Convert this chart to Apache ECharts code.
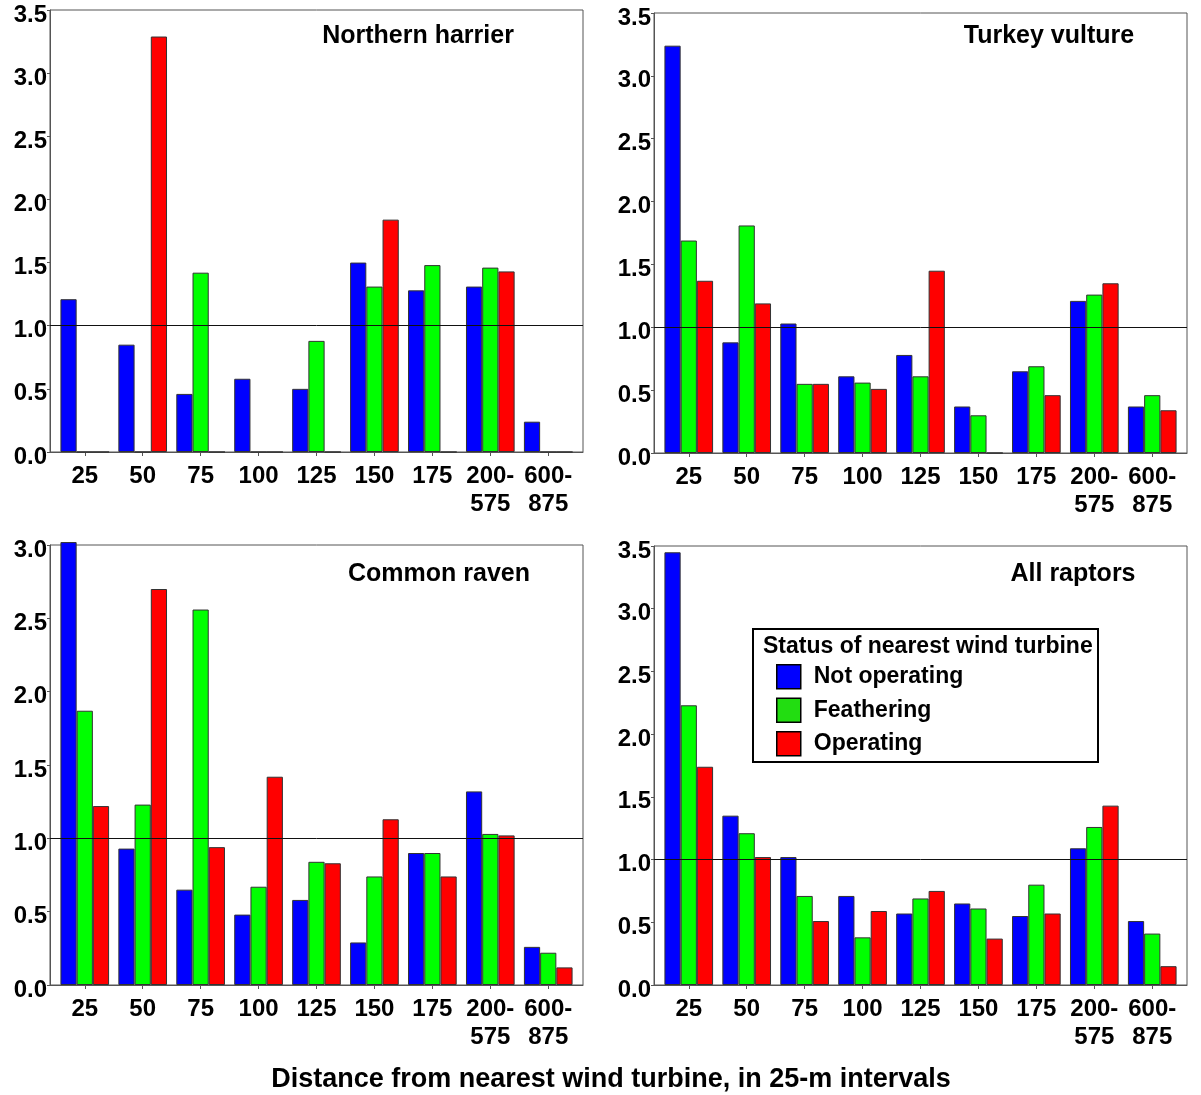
<!DOCTYPE html>
<html><head><meta charset="utf-8">
<script src="https://cdn.jsdelivr.net/npm/echarts@6/dist/echarts.min.js"></script>
<style>html,body{margin:0;padding:0;background:#fff}#c{width:1201px;height:1095px}</style>
</head><body><div id="c"></div>
<script>
// ---- data ----
const categories = ['25', '50', '75', '100', '125', '150', '175', '200-\n575', '600-\n875'];
const seriesNames = ['Not operating', 'Feathering', 'Operating'];
const panelTitles = ['Northern harrier', 'Turkey vulture', 'Common raven', 'All raptors'];
const yMaxes = [3.5, 3.5, 3.0, 3.5];
const yTickStep = 0.5;
const xAxisTitle = 'Distance from nearest wind turbine, in 25-m intervals';
const legendTitle = 'Status of nearest wind turbine';

const harrierNotOperating = [1.21, 0.85, 0.46, 0.58, 0.50, 1.50, 1.28, 1.31, 0.24];
const harrierFeathering   = [0, 0, 1.42, 0, 0.88, 1.31, 1.48, 1.46, 0];
const harrierOperating    = [0, 3.29, 0, 0, 0, 1.84, 0, 1.43, 0];

const vultureNotOperating = [3.24, 0.88, 1.03, 0.61, 0.78, 0.37, 0.65, 1.21, 0.37];
const vultureFeathering   = [1.69, 1.81, 0.55, 0.56, 0.61, 0.30, 0.69, 1.26, 0.46];
const vultureOperating    = [1.37, 1.19, 0.55, 0.51, 1.45, 0, 0.46, 1.35, 0.34];

const ravenNotOperating = [3.02, 0.93, 0.65, 0.48, 0.58, 0.29, 0.90, 1.32, 0.26];
const ravenFeathering   = [1.87, 1.23, 2.56, 0.67, 0.84, 0.74, 0.90, 1.03, 0.22];
const ravenOperating    = [1.22, 2.70, 0.94, 1.42, 0.83, 1.13, 0.74, 1.02, 0.12];

const raptorsNotOperating = [3.45, 1.35, 1.02, 0.71, 0.57, 0.65, 0.55, 1.09, 0.51];
const raptorsFeathering   = [2.23, 1.21, 0.71, 0.38, 0.69, 0.61, 0.80, 1.26, 0.41];
const raptorsOperating    = [1.74, 1.02, 0.51, 0.59, 0.75, 0.37, 0.57, 1.43, 0.15];

const panelData = [
  [harrierNotOperating, harrierFeathering, harrierOperating],
  [vultureNotOperating, vultureFeathering, vultureOperating],
  [ravenNotOperating, ravenFeathering, ravenOperating],
  [raptorsNotOperating, raptorsFeathering, raptorsOperating]
];

// ---- styles / layout ----
const FONT = "'Liberation Sans', Arial, Helvetica, sans-serif";
const barColors = ['#0000ff', '#00ff00', '#ff0000'];
const legendColors = ['#0000ff', '#22dd11', '#ff0000'];
const grids = [
  {left: 50, top: 10, width: 533, height: 442},
  {left: 654, top: 13, width: 533, height: 440},
  {left: 50, top: 545, width: 533, height: 440},
  {left: 654, top: 546, width: 533, height: 439}
];
const titlePos = [
  {x: 418, y: 36}, {x: 1049, y: 36}, {x: 439, y: 574}, {x: 1073, y: 574}
];
const tickPositions = categories.map((c, i) => i + 1);
const axisGray = '#555';

const option = {
  animation: false,
  backgroundColor: '#fff',
  textStyle: {fontFamily: FONT},
  grid: grids.map(g => Object.assign({show: true, borderColor: axisGray, borderWidth: 1, containLabel: false}, g)),
  xAxis: grids.map((g, i) => ({
    type: 'value', gridIndex: i, min: 0.4, max: 9.6,
    axisLine: {show: true, onZero: false, lineStyle: {color: axisGray, width: 1}},
    axisTick: {show: true, length: 4, customValues: tickPositions, lineStyle: {color: axisGray}},
    splitLine: {show: false},
    axisLabel: {
      customValues: tickPositions, margin: 10,
      formatter: v => categories[Math.round(v) - 1] || '',
      fontFamily: FONT, fontWeight: 'bold', fontSize: 24, color: '#000', lineHeight: 28
    }
  })),
  yAxis: grids.map((g, i) => ({
    type: 'value', gridIndex: i, min: 0, max: yMaxes[i], interval: yTickStep,
    axisLine: {show: true, lineStyle: {color: axisGray, width: 1}},
    axisTick: {show: true, length: 3, lineStyle: {color: axisGray}},
    splitLine: {show: false},
    axisLabel: {
      margin: 3, formatter: v => v.toFixed(1), verticalAlign: 'top', lineHeight: 10,
      fontFamily: FONT, fontWeight: 'bold', fontSize: 24, color: '#000'
    }
  })),
  legend: {
    orient: 'vertical', left: 776, top: 664, padding: 0,
    itemWidth: 24, itemHeight: 24, itemGap: 8, icon: 'rect', selectedMode: false,
    textStyle: {fontFamily: FONT, fontWeight: 'bold', fontSize: 23, color: '#000', padding: [0, 0, 0, 8]},
    data: seriesNames.map((n, k) => ({name: n, itemStyle: {color: legendColors[k], borderColor: '#000', borderWidth: 1.5}}))
  },
  graphic: [
    {type: 'rect', shape: {x: 753, y: 629, width: 345, height: 133}, style: {fill: 'none', stroke: '#000', lineWidth: 2}, z: 100},
    {type: 'text', x: 763, y: 647, style: {text: legendTitle, font: 'bold 23px ' + FONT, fill: '#000', verticalAlign: 'middle'}, z: 100},
    {type: 'text', x: 611, y: 1080, style: {text: xAxisTitle, font: 'bold 27px ' + FONT, fill: '#000', align: 'center', verticalAlign: 'middle'}},
  ].concat(panelTitles.map((t, i) => ({
    type: 'text', x: titlePos[i].x, y: titlePos[i].y,
    style: {text: t, font: 'bold 25px ' + FONT, fill: '#000', align: 'center', verticalAlign: 'middle'}
  }))),
  series: []
};

panelData.forEach((group, p) => {
  group.forEach((vals, k) => {
    const s = {
      type: 'bar', name: seriesNames[k], xAxisIndex: p, yAxisIndex: p,
      data: vals.map((v, i) => [tickPositions[i], v]),
      barCategoryGap: '16%', barGap: '0%', clip: false,
      itemStyle: {color: barColors[k], borderColor: '#333', borderWidth: 1},
      emphasis: {disabled: true}
    };
    if (k === 2) {
      s.markLine = {
        silent: true, symbol: 'none', label: {show: false},
        lineStyle: {color: '#111', width: 1, type: 'solid'},
        data: [{yAxis: 1}]
      };
    }
    option.series.push(s);
  });
});

const chart = echarts.init(document.getElementById('c'), null, {renderer: 'canvas'});
chart.setOption(option);
</script></body></html>
